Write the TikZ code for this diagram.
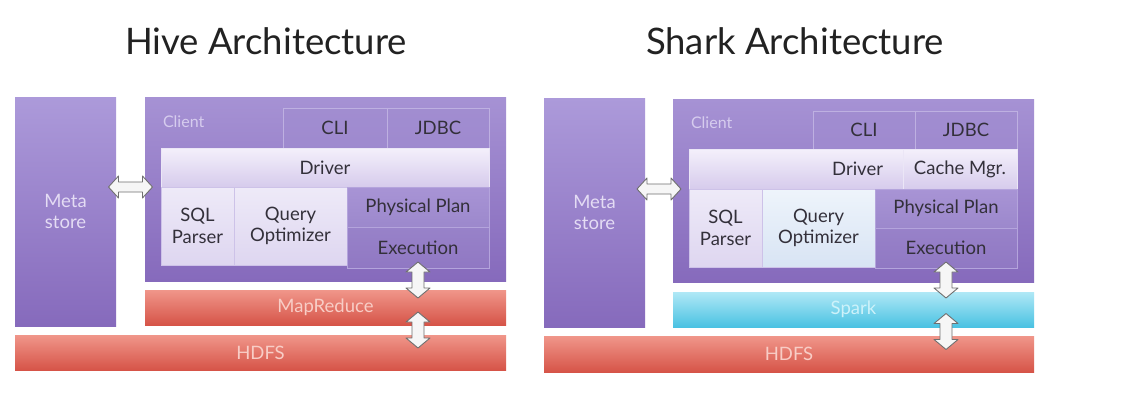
\documentclass[tikz,border=0pt]{standalone}
\usepackage{fontspec}
\setmainfont{Lato}
\usetikzlibrary{calc}
\definecolor{txt}{HTML}{33303A}
\definecolor{arrowline}{HTML}{707070}
\definecolor{arrowfill}{HTML}{F6F6F6}
\definecolor{metatop}{RGB}{172,154,218}
\definecolor{metabot}{RGB}{134,106,188}
\definecolor{metatext}{RGB}{228,220,244}
\definecolor{clitop}{RGB}{166,146,212}
\definecolor{clibot}{RGB}{134,106,188}
\definecolor{ifaceline}{RGB}{190,176,225}
\definecolor{ifacefill}{RGB}{160,140,208}
\definecolor{drvline}{RGB}{235,230,246}
\definecolor{drvtop}{RGB}{244,240,251}
\definecolor{drvbot}{RGB}{214,203,236}
\definecolor{lightline}{RGB}{205,194,232}
\definecolor{lighttop}{RGB}{238,234,248}
\definecolor{lightbot}{RGB}{222,214,240}
\definecolor{bluetop}{RGB}{238,244,251}
\definecolor{bluebot}{RGB}{216,228,244}
\definecolor{planline}{RGB}{180,164,220}
\definecolor{plantop}{RGB}{168,148,213}
\definecolor{planbot}{RGB}{156,136,204}
\definecolor{exectop}{RGB}{152,130,201}
\definecolor{execbot}{RGB}{144,120,195}
\definecolor{redtop}{RGB}{240,150,138}
\definecolor{redbot}{RGB}{214,84,72}
\definecolor{redtext}{RGB}{248,205,198}
\definecolor{cyantop}{RGB}{176,232,246}
\definecolor{cyanbot}{RGB}{74,194,226}
\definecolor{cyantext}{RGB}{205,242,250}
\definecolor{clientlabel}{RGB}{214,204,238}
\definecolor{titletext}{RGB}{34,34,34}
\newcommand\mkbox[7]{\node[#2, minimum width={#5-#3}, minimum height={#6-#4}] (#1) at ({(#3+#5)/2},{(#4+#6)/2}) {#7};}
\begin{document}
\begin{tikzpicture}[x=1pt,y=-1pt,
  basebox/.style={rectangle, inner sep=0pt, outer sep=0pt, align=center, font=\fontsize{18.5}{21.5}\selectfont, text=txt},
  metabox/.style={basebox, top color=metatop, bottom color=metabot, text=metatext},
  clientbox/.style={basebox, top color=clitop, bottom color=clibot},
  ifacebox/.style={basebox, draw=ifaceline, line width=0.8pt, fill=ifacefill, fill opacity=0.5, text opacity=1},
  driverbox/.style={basebox, draw=drvline, line width=0.6pt, top color=drvtop, bottom color=drvbot},
  lightbox/.style={basebox, draw=lightline, line width=0.6pt, top color=lighttop, bottom color=lightbot},
  bluebox/.style={basebox, draw=lightline, line width=0.6pt, top color=bluetop, bottom color=bluebot},
  planbox/.style={basebox, draw=planline, line width=0.6pt, top color=plantop, bottom color=planbot},
  execbox/.style={basebox, draw=planline, line width=0.6pt, top color=exectop, bottom color=execbot},
  redbox/.style={basebox, top color=redtop, bottom color=redbot, text=redtext},
  cyanbox/.style={basebox, top color=cyantop, bottom color=cyanbot, text=cyantext},
  clientlbl/.style={basebox, anchor=west, font=\fontsize{16}{19}\selectfont, text=clientlabel},
  titlebox/.style={anchor=base, inner sep=0pt, font=\fontsize{36.5}{42}\selectfont, text=titletext},
  arrowst/.style={draw=arrowline, line width=0.9pt, fill=arrowfill, line join=round},
  harr/.pic={\draw[arrowst] (-22,0) -- (-12,-11) -- (-12,-5) -- (12,-5) -- (12,-11) -- (22,0) -- (12,11) -- (12,5) -- (-12,5) -- (-12,11) -- cycle;},
  varr/.pic={\draw[arrowst] (0,-18) -- (12,-8) -- (6,-8) -- (6,8) -- (12,8) -- (0,18) -- (-12,8) -- (-6,8) -- (-6,-8) -- (-12,-8) -- cycle;}
]
\useasboundingbox[fill=white] (0,0) rectangle (1142,404);

% ---------- Hive ----------
\node[titlebox] (htitle) at (266,55) {Hive Architecture};
\mkbox{hmeta}{metabox}{15}{97}{116}{326}{Meta\\store}
\mkbox{hclient}{clientbox}{145}{97}{506}{281}{}
\node[clientlbl] (hclientlbl) at (163,122) {Client};
\mkbox{hcli}{ifacebox}{283}{108}{387}{148}{CLI}
\mkbox{hjdbc}{ifacebox}{387}{108}{489}{148}{JDBC}
\mkbox{hdriver}{driverbox}{161}{148}{489}{187}{Driver}
\mkbox{hsql}{lightbox}{161}{187}{234}{265}{SQL\\Parser}
\mkbox{hqo}{lightbox}{234}{187}{347}{265}{Query\\Optimizer}
\mkbox{hpp}{planbox}{347}{187}{489}{227}{Physical Plan}
\mkbox{hexe}{execbox}{347}{227}{489}{268}{Execution}
\mkbox{hmr}{redbox}{145}{290}{506}{325}{MapReduce}
\mkbox{hhdfs}{redbox}{15}{335}{506}{370}{HDFS}
\coordinate (hmid1) at ($(hmeta.east)!0.5!(hclient.west)$);
\coordinate (hmid2) at ($(hexe.south)+(0,12)$);
\coordinate (hmid3) at ($(hmr.south)!0.5!(hhdfs.north)$);
\pic at (hmid1 |- hdriver.south) {harr};
\pic at (hmid2) {varr};
\pic at (hexe.south |- hmid3) {varr};

% ---------- Shark ----------
\node[titlebox] (stitle) at (795,55) {Shark Architecture};
\mkbox{smeta}{metabox}{544}{98}{645}{327}{Meta\\store}
\mkbox{sclient}{clientbox}{673}{99}{1034}{282}{}
\node[clientlbl] (sclientlbl) at (691,123) {Client};
\mkbox{scli}{ifacebox}{813}{111}{915}{149}{CLI}
\mkbox{sjdbc}{ifacebox}{915}{111}{1017}{149}{JDBC}
\mkbox{sdriver}{driverbox}{689}{149}{903}{189}{}
\node[basebox, anchor=east] (sdrivertxt) at ($(sdriver.east)+(-20,0)$) {Driver};
\mkbox{scache}{driverbox}{903}{149}{1017}{189}{Cache Mgr.}
\mkbox{ssql}{lightbox}{689}{189}{762}{267}{SQL\\Parser}
\mkbox{sqo}{bluebox}{762}{189}{875}{267}{Query\\Optimizer}
\mkbox{spp}{planbox}{875}{189}{1017}{228}{Physical Plan}
\mkbox{sexe}{execbox}{875}{228}{1017}{268}{Execution}
\mkbox{sspark}{cyanbox}{673}{292}{1034}{327}{Spark}
\mkbox{shdfs}{redbox}{544}{336}{1034}{372}{HDFS}
\coordinate (smid1) at ($(smeta.east)!0.5!(sclient.west)$);
\coordinate (smid2) at ($(sexe.south)+(0,12)$);
\coordinate (smid3) at ($(sspark.south)!0.5!(shdfs.north)$);
\pic at (smid1 |- sdriver.south) {harr};
\pic at (smid2) {varr};
\pic at (sexe.south |- smid3) {varr};
\end{tikzpicture}
\end{document}
